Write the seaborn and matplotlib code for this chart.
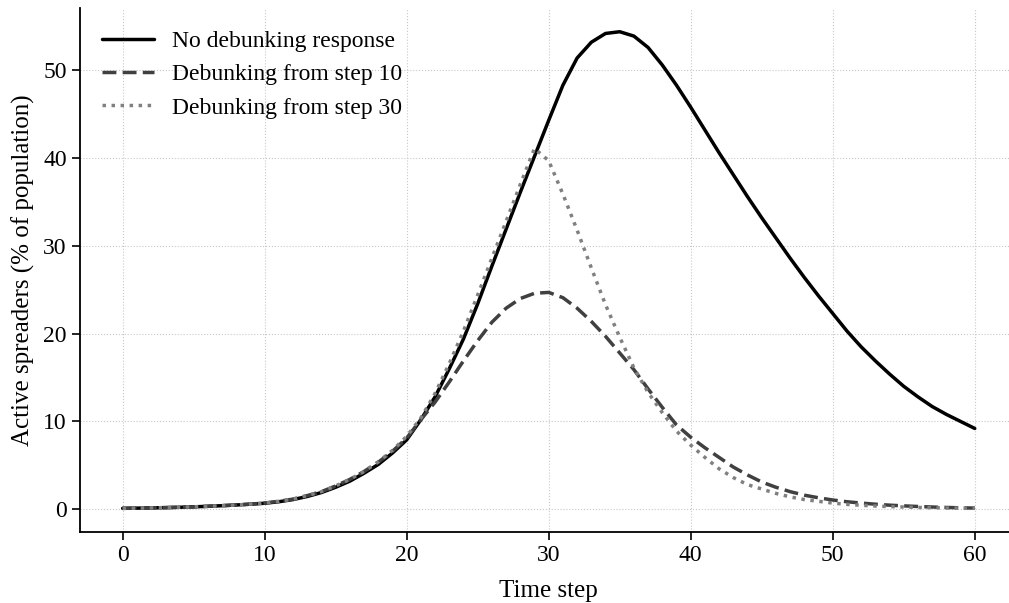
import matplotlib

matplotlib.use("Agg")
import matplotlib.pyplot as plt
import numpy as np
import pandas as pd
import seaborn as sns

# time steps 0..60
steps = list(range(61))

no_debunking = [
    0.10, 0.12, 0.15, 0.18, 0.22, 0.27, 0.33, 0.40, 0.48, 0.57,
    0.68, 0.85, 1.10, 1.45, 1.90, 2.50, 3.20, 4.10, 5.10, 6.40,
    7.90, 10.20, 12.80, 16.00, 19.40, 23.40, 27.70, 31.90, 36.10, 40.20,
    44.30, 48.30, 51.40, 53.20, 54.20, 54.40, 53.90, 52.60, 50.60, 48.30,
    45.80, 43.20, 40.60, 38.10, 35.60, 33.20, 30.90, 28.60, 26.40, 24.30,
    22.30, 20.30, 18.50, 16.90, 15.40, 14.00, 12.80, 11.70, 10.80, 10.00,
    9.20,
]

debunk_step10 = [
    0.10, 0.12, 0.15, 0.18, 0.22, 0.27, 0.33, 0.40, 0.48, 0.58,
    0.70, 0.90, 1.15, 1.55, 2.00, 2.65, 3.40, 4.30, 5.35, 6.60,
    8.10, 10.20, 12.20, 14.50, 16.90, 19.20, 21.30, 22.90, 24.00, 24.60,
    24.70, 24.10, 22.90, 21.40, 19.70, 17.80, 15.90, 13.70, 11.60, 9.60,
    8.20, 7.00, 5.90, 4.80, 3.90, 3.10, 2.50, 2.00, 1.60, 1.30,
    1.05, 0.85, 0.70, 0.57, 0.46, 0.38, 0.31, 0.25, 0.20, 0.16,
    0.13,
]

debunk_step30 = [
    0.10, 0.12, 0.15, 0.18, 0.22, 0.27, 0.33, 0.40, 0.48, 0.58,
    0.70, 0.90, 1.15, 1.55, 2.00, 2.65, 3.40, 4.30, 5.40, 6.70,
    8.30, 10.40, 13.20, 16.60, 20.30, 24.40, 28.60, 32.80, 37.00, 41.10,
    39.70, 35.90, 31.80, 27.50, 23.30, 19.60, 16.10, 13.30, 11.00, 8.90,
    7.30, 5.90, 4.60, 3.60, 2.80, 2.30, 1.80, 1.40, 1.10, 0.90,
    0.70, 0.55, 0.45, 0.36, 0.30, 0.25, 0.20, 0.17, 0.14, 0.12,
    0.10,
]

labels = ["No debunking response", "Debunking from step 10", "Debunking from step 30"]

sns.set_theme(style="whitegrid")
plt.rcParams["font.family"] = ["Liberation Serif", "DejaVu Serif"]
plt.rcParams["font.size"] = 17
plt.rcParams["text.color"] = "black"
plt.rcParams["axes.labelcolor"] = "black"

frame = pd.DataFrame({
    "step": steps * 3,
    "value": no_debunking + debunk_step10 + debunk_step30,
    "scenario": np.repeat(labels, len(steps)),
})

styles = {
    labels[0]: dict(color="#000000", linestyle="-"),
    labels[1]: dict(color="#404040", linestyle=(0, (4, 1.8))),
    labels[2]: dict(color="#808080", linestyle=(0, (1, 1.6))),
}

figure = plt.figure(figsize=(10.09, 6.03), dpi=100)
axis = figure.add_axes([0.0793, 0.1177, 0.929, 0.869])

for label in labels:
    subset = frame[frame["scenario"] == label]
    sns.lineplot(
        data=subset,
        x="step",
        y="value",
        ax=axis,
        label=label,
        linewidth=2.5,
        **styles[label],
    )

axis.set_xlim(-3, 63)
axis.set_ylim(-2.6, 57.1)
axis.set_xticks([0, 10, 20, 30, 40, 50, 60])
axis.set_yticks([0, 10, 20, 30, 40, 50])
axis.set_xlabel("Time step", fontsize=18, labelpad=10)
axis.set_ylabel("Active spreaders (% of population)", fontsize=18, labelpad=6)
axis.tick_params(axis="both", labelsize=17, direction="out", length=6, width=1.2,
                 left=True, bottom=True, color="black", labelcolor="black")
axis.grid(True, linestyle=":", linewidth=0.8, color="#c8c8c8")
for side in ("left", "bottom"):
    axis.spines[side].set_color("black")
    axis.spines[side].set_linewidth(1.3)
sns.despine(ax=axis)

legend = axis.legend(loc="upper left", frameon=False, fontsize=17,
                     handlelength=2.2, handletextpad=0.75, borderaxespad=0.55,
                     labelspacing=0.5)
for text in legend.get_texts():
    text.set_color("black")

figure.savefig("out.png", dpi=100)
plt.close(figure)
